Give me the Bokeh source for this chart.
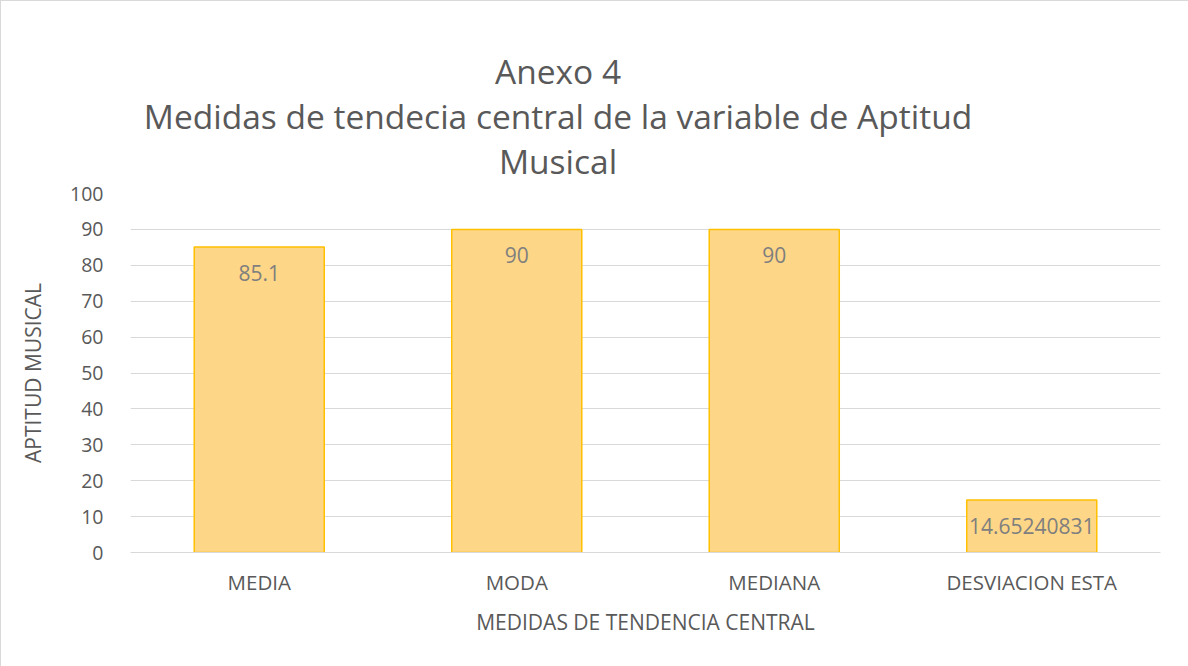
from bokeh.plotting import figure
from bokeh.models import Range1d, FixedTicker, ColumnDataSource, LabelSet, Div
from bokeh.layouts import column
from bokeh.core.properties import value
from bokeh.embed import file_html
from bokeh.resources import INLINE

categories = ["MEDIA", "MODA", "MEDIANA", "DESVIACION ESTA"]
values = [85.1, 90, 90, 14.65240831]
value_labels = ["85.1", "90", "90", "14.65240831"]
y_ticks = [0, 10, 20, 30, 40, 50, 60, 70, 80, 90, 100]
title_lines = ["Anexo 4", "Medidas de tendecia central de la variable de Aptitud", "Musical"]

FONT = "Open Sans"
GRAY = "#595959"
W = 1184
TITLE_H = 170

xs = [i + 0.5 for i in range(len(categories))]

title_html = "<br>".join(title_lines)
div = Div(text=(f'<div style="width:{W - 80}px;text-align:center;font-family:\'{FONT}\';'
                f'font-size:33.5px;line-height:45px;color:{GRAY};padding-top:43px;">'
                f'{title_html}</div>'),
          width=W, height=TITLE_H)

p = figure(width=W, height=492, output_backend="svg", toolbar_location=None,
           x_range=Range1d(0, 4), y_range=Range1d(0, 100))
p.min_border_left = 129
p.min_border_right = 25
p.min_border_top = 12
p.min_border_bottom = 121
p.outline_line_color = None
p.background_fill_color = "white"

src = ColumnDataSource(dict(x=xs, top=values, lab=value_labels))
p.vbar(x="x", top="top", width=0.505, source=src, fill_color="#FED687",
       line_color="#FFC000", line_width=1.5)

labels = LabelSet(x="x", y="top", text="lab", source=src, text_align="center",
                  text_baseline="middle", y_offset=-26, text_font=value(FONT),
                  text_font_size="21px", text_color="#7f7f7f")
p.add_layout(labels)

p.xgrid.grid_line_color = None
p.ygrid.grid_line_color = "#d9d9d9"
p.ygrid.grid_line_width = 1

p.yaxis.ticker = FixedTicker(ticks=y_ticks)
p.xaxis.ticker = FixedTicker(ticks=xs)
p.xaxis.major_label_overrides = {x: c for x, c in zip(xs, categories)}
for ax in (p.xaxis, p.yaxis):
    ax.axis_line_color = None
    ax.major_tick_line_color = None
    ax.minor_tick_line_color = None
    ax.major_label_text_font = FONT
    ax.major_label_text_color = GRAY
    ax.axis_label_text_font = FONT
    ax.axis_label_text_color = GRAY
    ax.axis_label_text_font_style = "normal"
p.xaxis.axis_line_color = "#d9d9d9"
p.yaxis.major_label_text_font_size = "19.5px"
p.xaxis.major_label_text_font_size = "20.5px"
p.yaxis.major_label_standoff = 21
p.xaxis.major_label_standoff = 9
p.yaxis.axis_label = "APTITUD MUSICAL"
p.xaxis.axis_label = "MEDIDAS DE TENDENCIA CENTRAL"
p.yaxis.axis_label_text_font_size = "21px"
p.xaxis.axis_label_text_font_size = "21px"
p.yaxis.axis_label_standoff = 20
p.xaxis.axis_label_standoff = 9

layout = column(div, p, spacing=0)
layout.styles = {"border": "1px solid #d9d9d9", "background-color": "white"}

open("out.html", "w").write(file_html(layout, INLINE))
